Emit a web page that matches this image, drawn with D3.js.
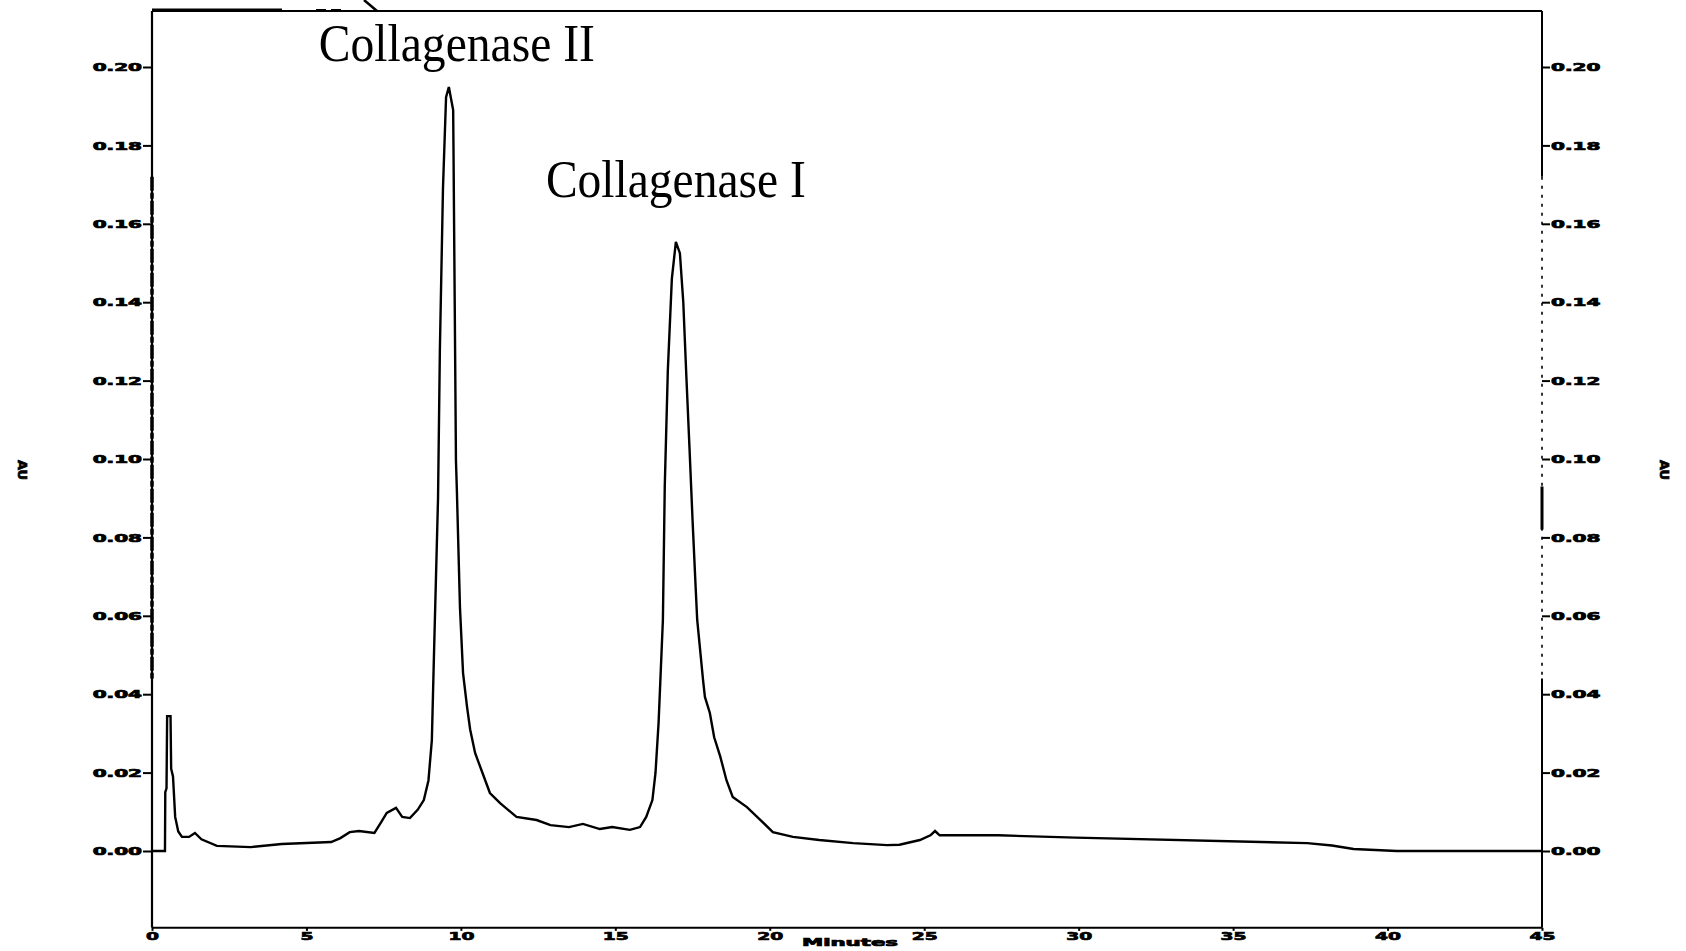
<!DOCTYPE html>
<html>
<head>
<meta charset="utf-8">
<script src="https://cdn.jsdelivr.net/npm/d3@7"></script>
<style>
  html, body { margin: 0; padding: 0; background: #fff; }
  svg { display: block; }
</style>
</head>
<body>
<svg id="chart" width="1686" height="951"></svg>
<script>
// Chromatogram trace: retention time (min) and absorbance
const timeMin = [
  0, 0.42, 0.43, 0.47, 0.49, 0.6, 0.62, 0.68, 0.75, 0.85, 0.97, 1.2, 1.39, 1.6, 2.1,
  3.2, 4.2, 5.8, 6.1, 6.4, 6.7, 7.2, 7.4, 7.6, 7.9, 8.1, 8.35, 8.6, 8.8, 8.95,
  9.06, 9.13, 9.26, 9.32, 9.42, 9.52, 9.61, 9.75, 9.76, 9.8, 9.84, 9.87, 9.97,
  10.07, 10.2, 10.3, 10.46, 10.7, 10.94, 11.27, 11.8, 12.45, 12.9, 13.5, 13.95,
  14.5, 14.9, 15.47, 15.8, 16.0, 16.2, 16.3, 16.4, 16.54, 16.6, 16.7, 16.83,
  16.96, 17.09, 17.2, 17.3, 17.4, 17.5, 17.6, 17.65, 17.84, 17.9, 18.06, 18.2,
  18.4, 18.6, 18.8, 19.26, 19.7, 20.1, 20.75, 21.6, 22.7, 23.8, 24.2, 24.86,
  25.2, 25.35, 25.5, 27.4, 29.9, 37.4, 38.2, 38.9, 40.3, 45
];
const absorbance = [
  0, 0, 0.015, 0.016, 0.0344, 0.0344, 0.021, 0.019, 0.0087, 0.005, 0.0036, 0.0036, 0.0046, 0.003, 0.0013,
  0.001, 0.0018, 0.0023, 0.0033, 0.0048, 0.0051, 0.0046, 0.0071, 0.0097, 0.011, 0.0087, 0.0084, 0.0105, 0.013, 0.018,
  0.0283, 0.0505, 0.090, 0.128, 0.169, 0.1923, 0.1949, 0.189, 0.1796, 0.14, 0.0997, 0.092, 0.0622,
  0.0454, 0.0367, 0.031, 0.025, 0.0199, 0.0148, 0.0122, 0.0087, 0.0079, 0.0066, 0.0061, 0.0069,
  0.0056, 0.0061, 0.0054, 0.0061, 0.0087, 0.013, 0.0199, 0.0327, 0.059, 0.093, 0.1227, 0.146,
  0.1554, 0.1525, 0.14, 0.121, 0.103, 0.0844, 0.0673, 0.059, 0.0436, 0.0393, 0.0352, 0.029,
  0.024, 0.018, 0.0138, 0.0112, 0.0079, 0.0048, 0.0036, 0.0028, 0.002, 0.0015, 0.0016, 0.0028,
  0.0040, 0.0051, 0.0040, 0.0040, 0.0034, 0.002, 0.0014, 0.0005, 0.0, 0.0
];

// Axis ticks
const xTicks = [0, 5, 10, 15, 20, 25, 30, 35, 40, 45];
const yTicks = [0, 0.02, 0.04, 0.06, 0.08, 0.10, 0.12, 0.14, 0.16, 0.18, 0.20];

// Peak labels
const peakNames = ["Collagenase II", "Collagenase I"];
const peakTimes = [9.61, 16.96];
const peakValues = [0.1949, 0.1554];

const svg = d3.select("#chart");

const x = d3.scaleLinear().domain([0, 45]).range([152, 1542]);
const y = d3.scaleLinear().domain([0, 0.20]).range([851, 67]);
const yBottom = y(-0.0196);
const yTop = y(0.2143);

// Frame: top and bottom rules
svg.append("line")
  .attr("x1", x(0)).attr("x2", x(45))
  .attr("y1", yTop).attr("y2", yTop)
  .attr("stroke", "#000").attr("stroke-width", 2);
svg.append("line")
  .attr("x1", x(0)).attr("x2", x(45))
  .attr("y1", yBottom).attr("y2", yBottom)
  .attr("stroke", "#000").attr("stroke-width", 2);

// Heavier fragment along the top-left edge with a pointer stub
svg.append("line")
  .attr("x1", x(0)).attr("x2", 282)
  .attr("y1", yTop - 1).attr("y2", yTop - 1)
  .attr("stroke", "#000").attr("stroke-width", 3);
svg.append("line")
  .attr("x1", 316).attr("x2", 343)
  .attr("y1", yTop - 1).attr("y2", yTop - 1)
  .attr("stroke", "#000").attr("stroke-width", 2).attr("stroke-dasharray", "10,5");
svg.append("path")
  .attr("d", `M364,0 L377,${yTop}`)
  .attr("stroke", "#000").attr("stroke-width", 2.5).attr("fill", "none");

const tickFont = "'DejaVu Sans', Arial, sans-serif";

// Heavy, wide tick lettering
function heavyText(sel, size) {
  sel.attr("font-family", tickFont).attr("font-weight", "bold")
    .attr("font-size", size).attr("fill", "#000")
    .attr("stroke", "#000").attr("stroke-width", 0.7)
    .attr("paint-order", "stroke");
}

// Left axis
const leftAxis = svg.append("g")
  .attr("transform", `translate(${x(0)},0)`)
  .call(d3.axisLeft(y).tickValues(yTicks).tickSize(9).tickFormat(d3.format(".2f")));
leftAxis.select(".domain").remove();
leftAxis.append("line")
  .attr("y1", yTop).attr("y2", yBottom)
  .attr("stroke", "#000").attr("stroke-width", 2.2);
leftAxis.append("line")
  .attr("y1", y(0.172)).attr("y2", y(0.044))
  .attr("stroke", "#000").attr("stroke-width", 3.5)
  .attr("stroke-dasharray", "14,2,6,2");
leftAxis.selectAll(".tick line").attr("stroke-width", 2);
leftAxis.selectAll(".tick text")
  .call(heavyText, 10)
  .attr("x", -5).attr("dy", "0.36em")
  .attr("transform", "scale(2,1)");

// Right axis
const rightAxis = svg.append("g")
  .attr("transform", `translate(${x(45)},0)`)
  .call(d3.axisRight(y).tickValues(yTicks).tickSize(8).tickFormat(d3.format(".2f")));
rightAxis.select(".domain").remove();
rightAxis.append("line")
  .attr("y1", yTop).attr("y2", y(0.172))
  .attr("stroke", "#000").attr("stroke-width", 2);
rightAxis.append("line")
  .attr("y1", y(0.172)).attr("y2", y(0.044))
  .attr("stroke", "#000").attr("stroke-width", 1.6)
  .attr("stroke-dasharray", "3,6");
rightAxis.append("line")
  .attr("y1", y(0.093)).attr("y2", y(0.082))
  .attr("stroke", "#000").attr("stroke-width", 3);
rightAxis.append("line")
  .attr("y1", y(0.044)).attr("y2", yBottom)
  .attr("stroke", "#000").attr("stroke-width", 2);
rightAxis.selectAll(".tick line").attr("stroke-width", 2);
rightAxis.selectAll(".tick text")
  .call(heavyText, 10)
  .attr("x", 4.5).attr("dy", "0.36em")
  .attr("transform", "scale(2,1)");

// Bottom axis
const bottomAxis = svg.append("g")
  .attr("transform", `translate(0,${yBottom})`)
  .call(d3.axisBottom(x).tickValues(xTicks).tickSize(3).tickFormat(d3.format("d")));
bottomAxis.select(".domain").remove();
bottomAxis.selectAll(".tick line").attr("stroke-width", 2);
bottomAxis.selectAll(".tick text")
  .call(heavyText, 11)
  .attr("y", 4).attr("dy", "0.71em")
  .attr("transform", "scale(1.7,1)");

// Axis titles
svg.append("text")
  .attr("x", 850).attr("y", 946)
  .attr("text-anchor", "middle")
  .call(heavyText, 10)
  .attr("textLength", 96).attr("lengthAdjust", "spacingAndGlyphs")
  .text("Minutes");

[[23, 470], [1665, 470]].forEach(([cx, cy]) => {
  svg.append("text")
    .attr("transform", `translate(${cx},${cy}) rotate(90)`)
    .attr("text-anchor", "middle").attr("dy", "0.35em")
    .call(heavyText, 13)
    .text("AU");
});

// Trace
const trace = timeMin.map((t, i) => [t, absorbance[i]]);
svg.append("path")
  .datum(trace)
  .attr("fill", "none")
  .attr("stroke", "#000")
  .attr("stroke-width", 2.4)
  .attr("stroke-linejoin", "miter")
  .attr("d", d3.line().x(d => x(d[0])).y(d => y(d[1])));

// Peak annotations
const labelDx = [-130, -130];
const labelDy = [-26, -45];
const labelWidth = [276, 260];
peakNames.forEach((name, i) => {
  svg.append("text")
    .attr("x", x(peakTimes[i]) + labelDx[i])
    .attr("y", y(peakValues[i]) + labelDy[i])
    .attr("font-family", "'Liberation Serif', 'Times New Roman', serif")
    .attr("font-size", 52)
    .attr("textLength", labelWidth[i])
    .attr("lengthAdjust", "spacingAndGlyphs")
    .attr("fill", "#000")
    .text(name);
});
</script>
</body>
</html>
